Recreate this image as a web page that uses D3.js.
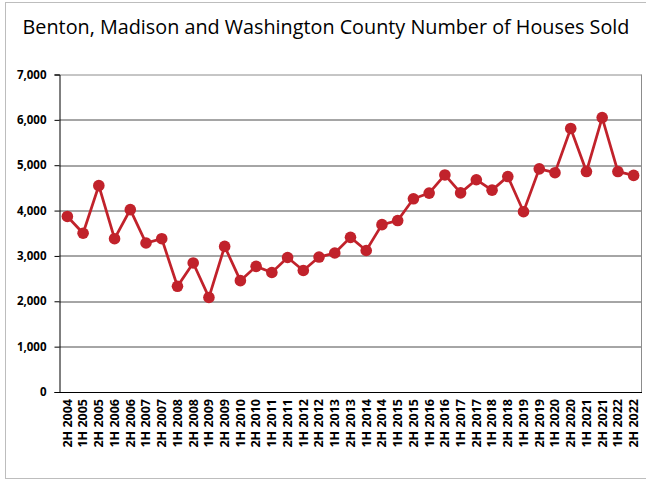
<!DOCTYPE html>
<html>
<head>
<meta charset="utf-8">
<script src="https://cdn.jsdelivr.net/npm/d3@7"></script>
<style>
  body { margin: 0; background: #fff; }
  svg text { font-family: "Open Sans", "Noto Sans", sans-serif; }
</style>
</head>
<body>
<div id="chart"></div>
<script>
// half-year periods
const periods = ["2H 2004",
  "1H 2005", "2H 2005", "1H 2006", "2H 2006", "1H 2007", "2H 2007",
  "1H 2008", "2H 2008", "1H 2009", "2H 2009", "1H 2010", "2H 2010",
  "1H 2011", "2H 2011", "1H 2012", "2H 2012", "1H 2013", "2H 2013",
  "1H 2014", "2H 2014", "1H 2015", "2H 2015", "1H 2016", "2H 2016",
  "1H 2017", "2H 2017", "1H 2018", "2H 2018", "1H 2019", "2H 2019",
  "1H 2020", "2H 2020", "1H 2021", "2H 2021", "1H 2022", "2H 2022"];

// houses sold
const housesSold = [3870,
  3500, 4550, 3380, 4020, 3285, 3380,
  2330, 2845, 2085, 3210, 2455, 2770,
  2635, 2965, 2680, 2975, 3065, 3410,
  3120, 3690, 3780, 4260, 4385, 4785,
  4390, 4680, 4450, 4750, 3975, 4920,
  4835, 5810, 4860, 6050, 4860, 4775];

const yTicks = [0, 1000, 2000, 3000, 4000, 5000, 6000, 7000];

const W = 646, H = 481;
const margin = {top: 74.5, right: 4.5, bottom: 89, left: 59.5};
const width = W - margin.left - margin.right;
const height = H - margin.top - margin.bottom;

const svg = d3.select("#chart").append("svg")
    .attr("width", W)
    .attr("height", H);

// outer frame
svg.append("rect")
    .attr("x", 5.5).attr("y", 2.5)
    .attr("width", W + 10).attr("height", 476)
    .attr("fill", "none")
    .attr("stroke", "#bdbdbd");

// title
svg.append("text")
    .attr("x", 326).attr("y", 34)
    .attr("text-anchor", "middle")
    .attr("font-size", 19.8)
    .attr("fill", "#000")
    .text("Benton, Madison and Washington County Number of Houses Sold");

const g = svg.append("g")
    .attr("transform", `translate(${margin.left}, ${margin.top})`);

const x = d3.scaleBand().domain(periods).range([0, width]);
const y = d3.scaleLinear().domain([0, 7000]).range([height, 0]);

// gridlines
g.append("g")
    .selectAll("line")
    .data(yTicks.filter(d => d > 0))
    .join("line")
    .attr("x1", 0).attr("x2", width)
    .attr("y1", d => Math.round(y(d)) + 0.5).attr("y2", d => Math.round(y(d)) + 0.5)
    .attr("stroke", d => d === 7000 ? "#8c8c8c" : "#4d4d4d")
    .attr("stroke-width", 1);

// right border
g.append("line")
    .attr("x1", width).attr("x2", width)
    .attr("y1", 0).attr("y2", height)
    .attr("stroke", "#8c8c8c");

// y axis
const yAxis = g.append("g")
    .call(d3.axisLeft(y).tickValues(yTicks).tickSize(5).tickFormat(d3.format(",")));
yAxis.select(".domain").attr("stroke", "#000");
yAxis.selectAll(".tick line").attr("stroke", "#000");
yAxis.selectAll("text")
    .attr("x", -13)
    .attr("font-size", 11.5)
    .attr("font-weight", "bold")
    .attr("fill", "#000")
    .style("font-family", "'Open Sans', sans-serif");

// x axis
const xAxis = g.append("g")
    .attr("transform", `translate(0, ${height})`)
    .call(d3.axisBottom(x).tickSize(0));
xAxis.select(".domain").attr("stroke", "#000");
xAxis.selectAll("text")
    .attr("transform", "rotate(-90)")
    .attr("text-anchor", "end")
    .attr("x", -7)
    .attr("y", 0)
    .attr("dy", "0.35em")
    .attr("font-size", 12.5)
    .attr("font-weight", "bold")
    .attr("fill", "#000")
    .style("font-family", "'Open Sans', sans-serif");

// line
const red = "#c1222b";
const line = d3.line()
    .x((d, i) => x(periods[i]) + x.bandwidth() / 2)
    .y(d => y(d));

g.append("path")
    .datum(housesSold)
    .attr("d", line)
    .attr("fill", "none")
    .attr("stroke", red)
    .attr("stroke-width", 2.75);

g.selectAll(".dot")
    .data(housesSold)
    .join("circle")
    .attr("class", "dot")
    .attr("cx", (d, i) => x(periods[i]) + x.bandwidth() / 2)
    .attr("cy", d => y(d))
    .attr("r", 5.8)
    .attr("fill", red);
</script>
</body>
</html>
